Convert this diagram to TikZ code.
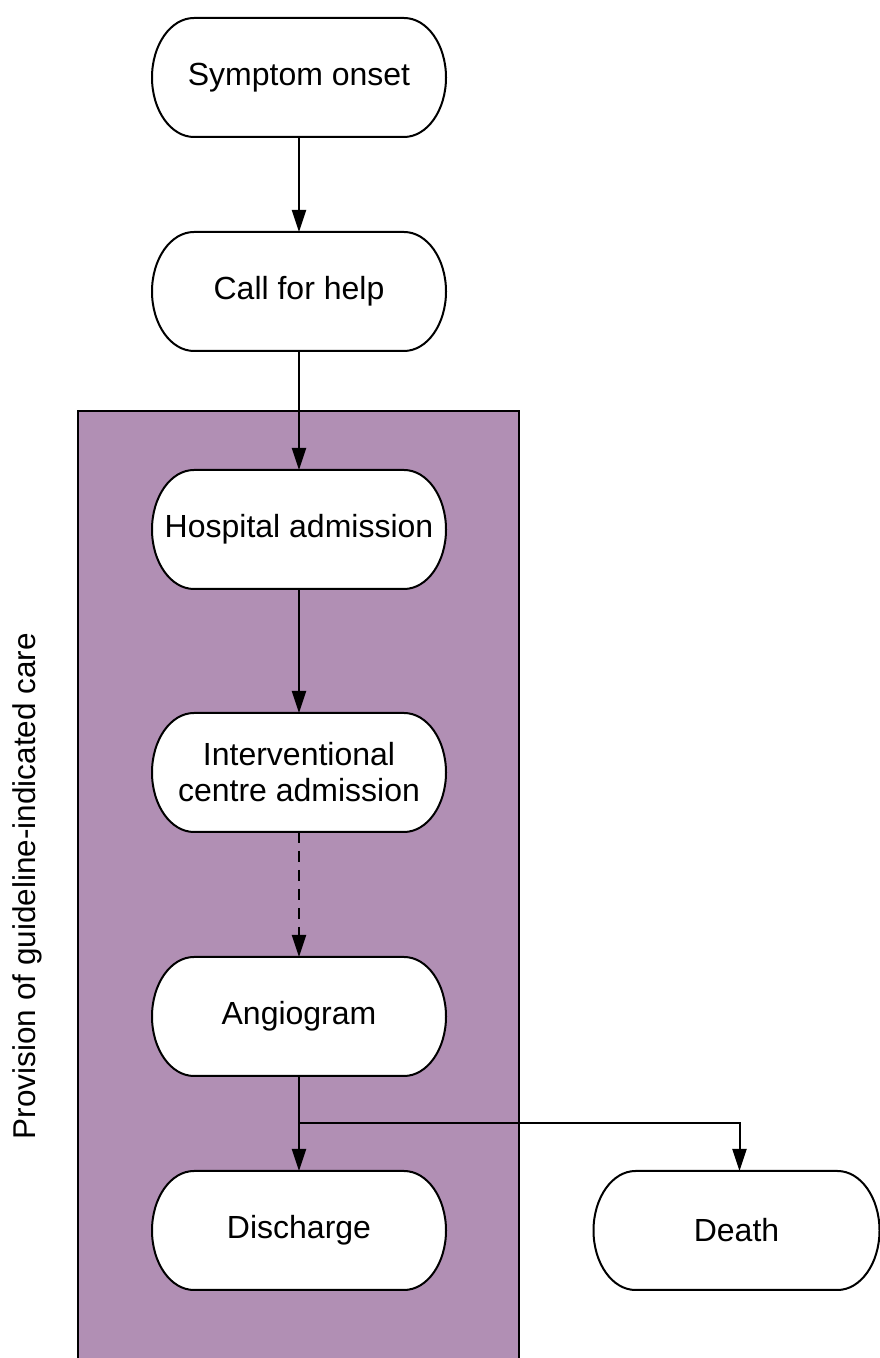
\documentclass[tikz,border=0pt]{standalone}
\usepackage{fontspec}
\setmainfont{Liberation Sans}
\usetikzlibrary{arrows.meta}
\pgfdeclarelayer{bg}
\pgfdeclarelayer{pill}
\pgfsetlayers{bg,pill,main}
\definecolor{carepurple}{HTML}{B18FB4}
\tikzset{
  box/.style={minimum width=294pt, minimum height=119pt, inner sep=0pt, outer sep=0pt,
    align=center, font=\fontsize{32}{36}\selectfont},
  pillstyle/.style={draw=black, fill=white, line width=2pt},
  arr/.style={draw=black, line width=2pt, -{Triangle[length=22pt,width=14pt]}},
  dashline/.style={dash pattern=on 11pt off 8pt},
}
\newcommand\pillshape[1]{%
  \begin{pgfonlayer}{pill}
  \draw[pillstyle] ([xshift=42pt]#1.north west) -- ([xshift=-42pt]#1.north east)
    arc[start angle=90,end angle=-90,x radius=42pt,y radius=59.5pt]
    -- ([xshift=42pt]#1.south west)
    arc[start angle=270,end angle=90,x radius=42pt,y radius=59.5pt] -- cycle;
  \end{pgfonlayer}}
\begin{document}
\begin{tikzpicture}[x=1pt,y=1pt]
\useasboundingbox (0,0) rectangle (880,1358);
\begin{pgfonlayer}{bg}
  \fill[carepurple] (78,-10) rectangle (519,947);
  \draw[line width=2pt] (78,-10) -- (78,947) -- (519,947) -- (519,-10);
\end{pgfonlayer}
\node[rotate=90, font=\fontsize{31.5}{36}\selectfont] (lbl) at (27,472) {Provision of guideline-indicated care};
\node[box] (symptom) at (299,1280.5) {Symptom onset};
\node[box] (call) at (299,1066.5) {Call for help};
\node[box] (hosp) at (299,828.5) {Hospital admission};
\node[box] (interv) at (299,585.5) {Interventional\\centre admission};
\node[box] (angio) at (299,341.5) {Angiogram};
\node[box] (discharge) at (299,127.5) {Discharge};
\node[box, minimum width=286pt] (death) at (736.5,127.5) {Death};
\pillshape{symptom}
\pillshape{call}
\pillshape{hosp}
\pillshape{interv}
\pillshape{angio}
\pillshape{discharge}
\pillshape{death}
\coordinate (br) at (299,235);
\draw[arr] (symptom.south) -- (call.north);
\draw[arr] (call.south) -- (hosp.north);
\draw[arr] (hosp.south) -- (interv.north);
\draw[arr, dashline] (interv.south) -- (angio.north);
\draw[arr] (angio.south) -- (discharge.north);
\draw[arr] (br) -| ([xshift=3pt]death.north);
\end{tikzpicture}
\end{document}
